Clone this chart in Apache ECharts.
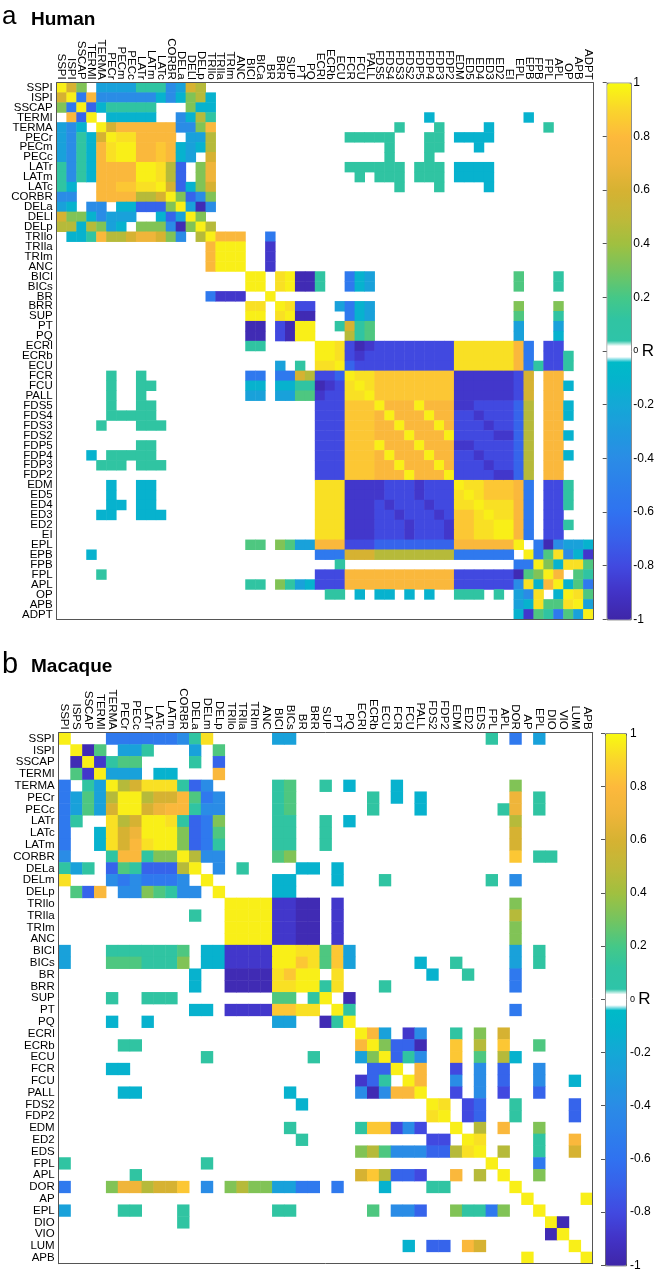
<!DOCTYPE html>
<html>
<head>
<meta charset="utf-8">
<title>Muscle correlation matrices</title>
<script src="https://cdn.jsdelivr.net/npm/echarts@6/dist/echarts.min.js"></script>
<style>
  html, body { margin: 0; padding: 0; background: #fff; }
  #chart { width: 657px; height: 1274px; }
</style>
</head>
<body>
<div id="chart"></div>
<script>
// ---- data -------------------------------------------------------------
// row / column labels
var humanRows = ['SSPI','ISPI','SSCAP','TERMI','TERMA','PECr','PECm','PECc','LATr','LATm','LATc','CORBR','DELa','DELl','DELp',
  'TRIlo','TRIla','TRIm','ANC','BICl','BICs','BR','BRR','SUP','PT','PQ','ECRl','ECRb','ECU','FCR','FCU','PALL',
  'FDS5','FDS4','FDS3','FDS2','FDP5','FDP4','FDP3','FDP2','EDM','ED5','ED4','ED3','ED2','EI','EPL','EPB','FPB','FPL','APL','OP','APB','ADPT'];
var humanCols = ['SSPI','ISPI','SSCAP','TERMI','TERMA','PECr','PECm','PECc','LATr','LATm','LATc','CORBR','DELa','DELl','DELp',
  'TRIlo','TRIla','TRIm','ANC','BICl','BICa','BR','BRR','SUP','PT','PQ','ECRl','ECRb','ECU','FCR','FCU','PALL',
  'FDS5','FDS4','FDS3','FDS2','FDP5','FDP4','FDP3','FDP2','EDM','ED5','ED4','ED3','ED2','EI','EPL','EPB','FPB','FPL','APL','OP','APB','ADPT'];
var macaqueRows = ['SSPI','ISPI','SSCAP','TERMI','TERMA','PECr','PECc','LATr','LATc','LATm','CORBR','DELa','DELm','DELp',
  'TRIlo','TRIla','TRIm','ANC','BICl','BICs','BR','BRR','SUP','PT','PQ','ECRl','ECRb','ECU','FCR','FCU','PALL',
  'FDS2','FDP2','EDM','ED2','EDS','FPL','APL','DOR','AP','EPL','DIO','VIO','LUM','APB'];
var macaqueCols = ['SSPI','ISPS','SSCAP','TERMI','TERMA','PECr','PECc','LATr','LATc','LATm','CORBR','DELa','DELm','DELp',
  'TRIlo','TRIla','TRIm','ANC','BICl','BICs','BR','BRR','SUP','PT','PQ','ECRl','ECRb','ECU','FCR','FCU','PALL',
  'FDS2','FDP2','EDM','ED2','EDS','FPL','APL','DOR','AP','EPL','DIO','VIO','LUM','APB'];

// R value of each cell letter ('.' = not shown)
var levelCode = { Y: 0.97, y: 0.93, x: 0.85, o: 0.78, O: 0.7, d: 0.6, G: 0.47, g: 0.33, h: 0.22, t: 0.12,
  c: -0.12, C: -0.25, b: -0.4, B: -0.55, v: -0.68, V: -0.8, p: -0.88, P: -0.96 };

// lower triangle, one string per row (a number repeats the next letter)
var humanLower = [
  'Y','dY','gBY','.ovY','Cbc.Y','CbtcdY','CbtcoyY','CbtcoyYY','tbtc4oY','tbtc4o2Y',
  'tc2.2o2x2yY','bb2.4oGGdY','Cc.bb.cc3vgY','dggcb3C2.cvCY','GGcGgCc.3gbPgY','.cctoGGdOOdgb.GY',
  '15.oY','15.o2Y','15.o3Y','19.Y','19.2Y','15.B3p2.Y','19.2y.Y','19.2Y.yY','19.2P.VPY','19.2P.VP2Y',
  '19.2t5.Y','26.2Y','22.C.t.2yY',
  '5.t2.t10.2B.2BdG2VvY',
  '5.t2.2t9.2c.2c2tPpVyY',
  '5.t2.t10.2C.2C2hp2V2yY',
  '5.t2.2t16.3V3xY',
  '5.5t16.3V3xoY',
  '4.t3.3t15.3V3x2oY',
  '26.3V3x3oY',
  '8.2t16.3V3xY3oY',
  '3.c.5t16.3V3xoY3oY',
  '4.3t.3t15.3V3x2oY3oY',
  '26.3V3x3oY3oY',
  '5.c2.2c16.3y3pp3Vp3VY',
  '5.c2.2c16.3y3pp3Vp3VyY',
  '5.2c.2c16.3y3pVp3Vp2V2yY',
  '4.2c2.3c15.3y3p2Vp3VpV2xyY',
  '26.3y3p3Vp3Vp2x2yY',
  '26.3y3p3Vp3Vp2x2y2Y',
  '19.hh.ghCC3o3V8v6oY',
  '3.c22.3B3d8G6B.Y',
  '28.t17.BBY',
  '4.t21.3V11o6VPhgY',
  '19.tt.gtCc3V11o6VbycoY',
  '27.tt.c.cc.c.c2.3t.t.Cby.cY',
  '46.CcyhhyY',
  '46.cphtBhCY'
];
var macaqueLower = [
  'Y','.Y','.PY','.hpY','B.tCY','BChCGY','BChCdYY','Bt2.yGdY','B2.cydO2Y','B2.cydoy2Y',
  'b3.toot2gY','tCt.vht3vGY','y3.bBb3Bb.Y','.hvo.bbghtbb.Y',
  '14.Y','11.t2.2Y','14.3Y','14.4Y',
  'C3.6th.2c4pY','C3.3h3tg.2c4p2Y',
  '11.c2.4PyxY','11.c2.4P2y2Y',
  '4.t2.3t8.2h.tY','11.2c.4p2x2y.Y','4.c2.c10.2C2.PtY',
  '25.Y','5.2t18.oY','12.t8.t3.CgY','4.2c20.2vY','25.pvt.Y','5.2c12.c5.bPb2oY',
  '20.c10.Y','31.yY','19.t5.t2xVbV2.Y','20.t10.2V.Y','25.gGh3b2vGyY',
  't11.t23.Y','6.t18.dxG2vV2.o.G.Y',
  'B3.gOOGddx.b.gGggCCBB.B3.c3.2t5.Y',
  '39.Y',
  'C4.2t3.t7.2t6.h.2bv2.g2tBg2.Y',
  '10.t30.Y','41.PY','29.c.2v.od7.Y','39.Y4.Y'
];

// ---- helpers ----------------------------------------------------------
var FONT = '"Liberation Sans", Arial, Helvetica, sans-serif';
var AXIS_COLOR = '#555';

function unpack(s) {
  var out = [], m, re = /(\d*)(\D)/g;
  while ((m = re.exec(s))) {
    var n = m[1] ? +m[1] : 1;
    for (var k = 0; k < n; k++) out.push(m[2]);
  }
  return out;
}

// symmetric matrix -> [col, row, R]
function cells(lower) {
  var d = [];
  lower.forEach(function (row, i) {
    unpack(row).forEach(function (ch, j) {
      if (ch === '.') return;
      var v = levelCode[ch];
      d.push([j, i, v]);
      if (i !== j) d.push([i, j, v]);
    });
  });
  return d;
}

// parula-like map with white gap round 0
var cmapStops = [
  [-1, '#3e26a8'], [-0.9, '#4233c6'], [-0.8, '#4149e0'], [-0.7, '#3860ea'], [-0.6, '#3072f0'],
  [-0.4, '#2a8ce6'], [-0.2, '#14a8d6'], [-0.1, '#04b4cc'], [-0.04, '#00bac8'], [-0.036, '#ffffff'],
  [0.036, '#ffffff'], [0.04, '#2ec4a8'], [0.12, '#30c4a2'], [0.2, '#44c888'], [0.3, '#74c460'],
  [0.4, '#a0c040'], [0.5, '#c0b838'], [0.6, '#d6b232'], [0.7, '#efb53a'], [0.8, '#fdb93c'],
  [0.9, '#fad52c'], [1, '#f8fa10']
];
function hex2rgb(h) { return [parseInt(h.substr(1, 2), 16), parseInt(h.substr(3, 2), 16), parseInt(h.substr(5, 2), 16)]; }
function cmap(r) {
  for (var k = 1; k < cmapStops.length; k++) {
    if (r <= cmapStops[k][0]) {
      var a = cmapStops[k - 1], b = cmapStops[k];
      var f = (r - a[0]) / (b[0] - a[0]);
      var ca = hex2rgb(a[1]), cb = hex2rgb(b[1]);
      return 'rgb(' + ca.map(function (c, i) { return Math.round(c + (cb[i] - c) * f); }).join(',') + ')';
    }
  }
  return cmapStops[cmapStops.length - 1][1];
}
var palette = [];
for (var s = 0; s <= 400; s++) palette.push(cmap(-1 + s * 0.005));

function topAxis(g, cats) {
  return {
    type: 'category', gridIndex: g, data: cats, position: 'top', z: 10,
    axisLine: { lineStyle: { color: AXIS_COLOR, width: 1 } },
    axisTick: { inside: true, alignWithLabel: true, interval: 0, length: 3.5, lineStyle: { color: AXIS_COLOR } },
    axisLabel: { interval: 0, rotate: 90, margin: 3, fontSize: 11.5, color: '#000', fontFamily: FONT },
    splitLine: { show: false }
  };
}
function bottomAxis(g, cats) {
  return {
    type: 'category', gridIndex: g, data: cats, position: 'bottom', z: 10,
    axisLine: { lineStyle: { color: AXIS_COLOR, width: 1 } },
    axisTick: { inside: true, alignWithLabel: true, interval: 0, length: 3.5, lineStyle: { color: AXIS_COLOR } },
    axisLabel: { show: false }, splitLine: { show: false }
  };
}
function leftAxis(g, cats) {
  return {
    type: 'category', gridIndex: g, data: cats, inverse: true, position: 'left', z: 10,
    axisLine: { lineStyle: { color: AXIS_COLOR, width: 1 } },
    axisTick: { inside: true, alignWithLabel: true, interval: 0, length: 3.5, lineStyle: { color: AXIS_COLOR } },
    axisLabel: { interval: 0, margin: 4, fontSize: 11.5, color: '#000', fontFamily: FONT },
    splitLine: { show: false }
  };
}
function rightAxis(g, cats) {
  return {
    type: 'category', gridIndex: g, data: cats, inverse: true, position: 'right', z: 10,
    axisLine: { lineStyle: { color: AXIS_COLOR, width: 1 } },
    axisTick: { inside: true, alignWithLabel: true, interval: 0, length: 3.5, lineStyle: { color: AXIS_COLOR } },
    axisLabel: { show: false }, splitLine: { show: false }
  };
}
function barAxis(g) {
  return {
    type: 'value', gridIndex: g, min: -1, max: 1, interval: 0.2, position: 'right', z: 10,
    axisLine: { show: false },
    axisTick: { inside: true, length: 4, lineStyle: { color: AXIS_COLOR } },
    splitLine: { show: false },
    axisLabel: {
      margin: 4, fontSize: 12, color: '#000', fontFamily: FONT,
      formatter: function (v) {
        var r = Math.round(v * 10) / 10;
        return r === 0 ? '{z|0} {r|R}' : String(r);
      },
      rich: {
        z: { fontSize: 9, fontFamily: FONT, color: '#000' },
        r: { fontSize: 17, fontFamily: FONT, color: '#000' }
      }
    }
  };
}
function colorbar(series, left, top, w, h) {
  return {
    type: 'continuous', seriesIndex: series, min: -1, max: 1, orient: 'vertical',
    inRange: { color: palette }, calculable: false, hoverLink: false,
    left: left, top: top, itemWidth: w, itemHeight: h, padding: 0,
    borderColor: AXIS_COLOR, borderWidth: 1, text: null
  };
}

// ---- chart ------------------------------------------------------------
var chart = echarts.init(document.getElementById('chart'), null, { renderer: 'canvas' });
chart.setOption({
  animation: false,
  textStyle: { fontFamily: FONT },
  grid: [
    { left: 56.7, top: 82.7, width: 536.6, height: 536.6 },
    { left: 58.7, top: 732.7, width: 534, height: 531 },
    { left: 606.7, top: 82.7, width: 24, height: 536.6 },
    { left: 605, top: 733.3, width: 21, height: 532 }
  ],
  xAxis: [
    topAxis(0, humanCols), bottomAxis(0, humanCols),
    topAxis(1, macaqueCols), bottomAxis(1, macaqueCols),
    { type: 'value', gridIndex: 2, min: 0, max: 1, show: false },
    { type: 'value', gridIndex: 3, min: 0, max: 1, show: false }
  ],
  yAxis: [
    leftAxis(0, humanRows), rightAxis(0, humanRows),
    leftAxis(1, macaqueRows), rightAxis(1, macaqueRows),
    barAxis(2), barAxis(3)
  ],
  visualMap: [
    colorbar(0, 606.7, 82.7, 24, 536.6),
    colorbar(1, 605, 733.3, 21, 532)
  ],
  series: [
    { type: 'heatmap', name: 'Human', xAxisIndex: 0, yAxisIndex: 0, data: cells(humanLower),
      itemStyle: { borderWidth: 0 }, emphasis: { disabled: true } },
    { type: 'heatmap', name: 'Macaque', xAxisIndex: 2, yAxisIndex: 2, data: cells(macaqueLower),
      itemStyle: { borderWidth: 0 }, emphasis: { disabled: true } }
  ],
  graphic: [
    { type: 'text', x: 2, y: 17, style: { text: 'a', font: '26px ' + FONT, fill: '#000', textVerticalAlign: 'middle' } },
    { type: 'text', x: 31, y: 19.5, style: { text: 'Human', font: 'bold 19px ' + FONT, fill: '#000', textVerticalAlign: 'middle' } },
    { type: 'text', x: 2, y: 665, style: { text: 'b', font: '29px ' + FONT, fill: '#000', textVerticalAlign: 'middle' } },
    { type: 'text', x: 31, y: 667, style: { text: 'Macaque', font: 'bold 19px ' + FONT, fill: '#000', textVerticalAlign: 'middle' } }
  ]
});
</script>
</body>
</html>
